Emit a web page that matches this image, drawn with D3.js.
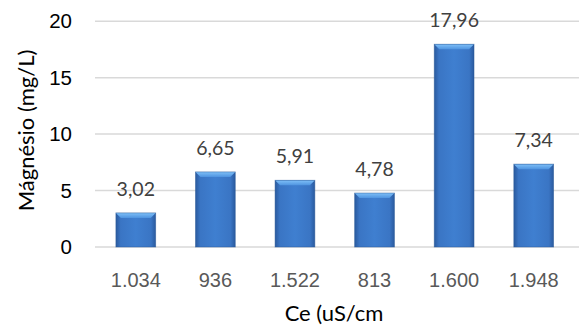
<!DOCTYPE html>
<html><head><meta charset="utf-8">
<script src="https://cdn.jsdelivr.net/npm/d3@7"></script>
<style>body{margin:0;background:#fff;}svg{display:block;font-family:Lato,"Open Sans",sans-serif;}</style>
</head><body><div id="chart"></div>
<script>
const categories = ["1.034","936","1.522","813","1.600","1.948"];
const values = [3.02,6.65,5.91,4.78,17.96,7.34];
const valueLabels = ["3,02","6,65","5,91","4,78","17,96","7,34"];
const yTicks = [0,5,10,15,20];
const yTitle = "Mágnésio (mg/L)";
const xTitle = "Ce (uS/cm";

const W=579,H=327;
const svg=d3.select("#chart").append("svg").attr("width",W).attr("height",H);
const x=d3.scaleBand().domain(categories).range([96,573.5]).paddingInner(0.5).paddingOuter(0.25);
const y=d3.scaleLinear().domain([0,20]).range([247,21.2]);

const defs=svg.append("defs");
const g1=defs.append("linearGradient").attr("id","body").attr("x1",0).attr("x2",1).attr("y1",0).attr("y2",0);
[[0,"#2a5a9e"],[0.12,"#3a75c4"],[0.5,"#3f7fd0"],[0.88,"#3a75c4"],[1,"#2a5a9e"]].forEach(s=>g1.append("stop").attr("offset",s[0]).attr("stop-color",s[1]));
const g2=defs.append("linearGradient").attr("id","top").attr("x1",0).attr("x2",0).attr("y1",0).attr("y2",1);
[[0,"#7fc0f8"],[1,"#4f94e0"]].forEach(s=>g2.append("stop").attr("offset",s[0]).attr("stop-color",s[1]));

// grid
svg.append("g").selectAll("line").data(yTicks).join("line")
  .attr("x1",95).attr("x2",579).attr("y1",d=>y(d)).attr("y2",d=>y(d))
  .attr("stroke","#d9d9d9").attr("stroke-width",1.5);

// y axis labels
const yAxis=svg.append("g").attr("transform","translate(72,0)")
  .call(d3.axisLeft(y).tickValues(yTicks).tickSize(0).tickPadding(0));
yAxis.select(".domain").remove();
yAxis.selectAll("text").attr("font-size",20.5).attr("fill","#000").attr("font-family","inherit");

// x axis labels
const xAxis=svg.append("g").attr("transform","translate(0,287)")
  .call(d3.axisBottom(x).tickSize(0).tickPadding(0));
xAxis.select(".domain").remove();
xAxis.selectAll("text").attr("font-size",20).attr("fill","#595959").attr("font-family","inherit").attr("dy","0");

// bars
const bw=x.bandwidth(), bev=5;
const bars=svg.append("g").selectAll("g").data(values).join("g");
bars.append("rect").attr("x",(d,i)=>x(categories[i])).attr("y",d=>y(d))
  .attr("width",bw).attr("height",d=>y(0)-y(d)).attr("fill","url(#body)");
bars.append("path").attr("d",(d,i)=>{const x0=x(categories[i]),x1=x0+bw,t=y(d);
  return `M${x0},${t}L${x1},${t}L${x1-bev},${t+bev}L${x0+bev},${t+bev}Z`;}).attr("fill","url(#top)");
bars.append("rect").attr("x",(d,i)=>x(categories[i])).attr("y",d=>y(d))
  .attr("width",bw).attr("height",d=>y(0)-y(d)).attr("fill","none").attr("stroke","#2b5a97").attr("stroke-width",0.8).attr("stroke-opacity",0.6);

// value labels
svg.append("g").selectAll("text").data(values).join("text")
  .attr("x",(d,i)=>x(categories[i])+bw/2).attr("y",d=>y(d)-17)
  .attr("text-anchor","middle").attr("font-size",19.5).attr("fill","#404040")
  .text((d,i)=>valueLabels[i]);

// titles
svg.append("text").attr("transform","translate(34,130.5) rotate(-90)").attr("text-anchor","middle")
  .attr("font-size",22).attr("fill","#000").text(yTitle);
svg.append("text").attr("x",334).attr("y",321).attr("text-anchor","middle")
  .attr("font-size",22).attr("fill","#000").text(xTitle);
</script></body></html>
